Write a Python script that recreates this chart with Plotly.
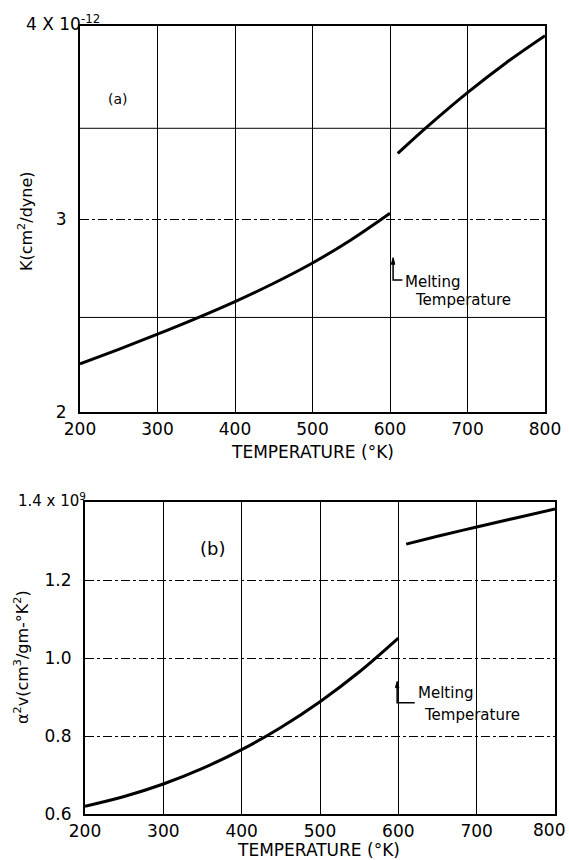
import plotly.graph_objects as go

# ---- data (a) ----
temp_a_solid = [200, 250, 300, 350, 400, 450, 500, 550, 600]
k_a_solid = [2.249, 2.325, 2.403, 2.485, 2.572, 2.667, 2.772, 2.893, 3.03]
temp_a_liquid = [610, 650, 700, 750, 800]
k_a_liquid = [3.34, 3.485, 3.655, 3.81, 3.95]

# ---- data (b) ----
temp_b_solid = [200, 250, 300, 350, 400, 450, 500, 550, 600]
a2v_b_solid = [0.620, 0.645, 0.677, 0.717, 0.765, 0.822, 0.888, 0.964, 1.051]
temp_b_liquid = [610, 650, 700, 750, 800]
a2v_b_liquid = [1.292, 1.312, 1.336, 1.359, 1.382]

x_ticks = [200, 300, 400, 500, 600, 700, 800]
x_tick_text = ["200", "300", "400", "500", "600", "700", "800"]
ya_ticks = [2, 3]
ya_tick_text = ["2", "3"]
ya_extra_grid = [2.49, 3.47]
yb_ticks = [0.6, 0.8, 1.0, 1.2]
yb_tick_text = ["0.6", "0.8", "1.0", "1.2"]
x_title = "TEMPERATURE (°K)"

FONT = "DejaVu Sans"
fig = go.Figure()

line_style = dict(color="black", width=3)
fig.add_trace(go.Scatter(x=temp_a_solid, y=k_a_solid, mode="lines", line=line_style,
                         line_shape="spline", xaxis="x", yaxis="y", showlegend=False))
fig.add_trace(go.Scatter(x=temp_a_liquid, y=k_a_liquid, mode="lines", line=line_style,
                         line_shape="spline", xaxis="x", yaxis="y", showlegend=False))
fig.add_trace(go.Scatter(x=temp_b_solid, y=a2v_b_solid, mode="lines", line=line_style,
                         line_shape="spline", xaxis="x2", yaxis="y2", showlegend=False))
fig.add_trace(go.Scatter(x=temp_b_liquid, y=a2v_b_liquid, mode="lines", line=line_style,
                         line_shape="spline", xaxis="x2", yaxis="y2", showlegend=False))

W, H = 569, 860

def xdom(l, r):
    return [l / W, r / W]

def ydom(top, bot):
    return [1 - bot / H, 1 - top / H]

def px(x):
    return x / W

def py(y):
    return 1 - y / H

common_x = dict(range=[200, 800], showline=True,
                linecolor="black", linewidth=2, mirror=True, showgrid=True,
                gridcolor="black", gridwidth=1, ticks="", zeroline=False, automargin=False,
                ticklabeloverflow="allow",
                tickfont=dict(family=FONT, size=17, color="black"),
                ticklabelstandoff=1)
common_y = dict(showline=True, linecolor="black", linewidth=2, mirror=True, showgrid=True,
                gridcolor="black", gridwidth=1, griddash="dashdot", ticks="", zeroline=False,
                automargin=False, ticklabeloverflow="allow",
                tickfont=dict(family=FONT, size=17, color="black"), ticklabelstandoff=8)

fig.update_layout(
    width=W, height=H,
    margin=dict(l=0, r=0, t=0, b=0, autoexpand=False),
    paper_bgcolor="white", plot_bgcolor="white",
    font=dict(family=FONT, color="black"),
    xaxis=dict(domain=xdom(80, 545), anchor="y", tickvals=x_ticks, ticktext=x_tick_text,
               **common_x),
    yaxis=dict(domain=ydom(26, 412), anchor="x", range=[2, 4], tickvals=ya_ticks,
               ticktext=ya_tick_text, **common_y),
    xaxis2=dict(domain=xdom(85, 555), anchor="y2", tickvals=x_ticks[:-1],
                ticktext=x_tick_text[:-1], **common_x),
    yaxis2=dict(domain=ydom(502, 814), anchor="x2", range=[0.6, 1.4], tickvals=yb_ticks,
                ticktext=yb_tick_text, **common_y),
)

def paper_text(x, y, text, size, xanchor="center", yanchor="middle", angle=0):
    fig.add_annotation(x=px(x), y=py(y), xref="paper", yref="paper", text=text,
                       showarrow=False, xanchor=xanchor, yanchor=yanchor, textangle=angle,
                       font=dict(family=FONT, size=size, color="black"))

# last tick label of (b) kept inside the window (right-aligned at the plot edge)
fig.add_annotation(x=x_ticks[-1], y=0, xref="x2", yref="paper", yanchor="middle",
                   yshift=H - 830, xanchor="right", xshift=12, text=x_tick_text[-1],
                   showarrow=False, font=dict(family=FONT, size=17, color="black"))

# x-axis titles
paper_text(312, 452, x_title, 17)
paper_text(318, 850, x_title, 17)

# extra unlabeled horizontal grid lines in (a)
for gv in ya_extra_grid:
    fig.add_shape(type="line", xref="x domain", yref="y", x0=0, x1=1, y0=gv, y1=gv,
                  line=dict(color="black", width=1), layer="below")

# top tick labels with exponents
paper_text(102, 23, "4 X 10<sup>-12</sup>", 17, xanchor="right")
paper_text(88, 500, "1.4 x 10<sup>9</sup>", 15, xanchor="right")

ann_font = dict(family=FONT, size=15, color="black")
# panel labels
fig.add_annotation(x=249, y=3.62, xref="x", yref="y", text="(a)", showarrow=False,
                   font=dict(family=FONT, size=14, color="black"))
fig.add_annotation(x=363, y=1.28, xref="x2", yref="y2", text="(b)", showarrow=False,
                   font=dict(family=FONT, size=18, color="black"))

# y-axis titles
paper_text(26, 221, "K(cm<sup>2</sup>/dyne)", 16, angle=-90)
paper_text(21, 657, "α<sup>2</sup>v(cm<sup>3</sup>/gm-°K<sup>2</sup>)", 16, angle=-90)

def melt_marker(xr, yr, xv, y_tip, y_corner, x_end, head_h, head_w):
    # vertical stem + horizontal foot
    fig.add_shape(type="path", xref=xr, yref=yr,
                  path=f"M {x_end},{y_corner} L {xv},{y_corner} L {xv},{y_tip - head_h}",
                  line=dict(color="black", width=1.5))
    # arrowhead
    fig.add_shape(type="path", xref=xr, yref=yr,
                  path=(f"M {xv - head_w},{y_tip - head_h} L {xv},{y_tip} "
                        f"L {xv + head_w},{y_tip - head_h} Z"),
                  fillcolor="black", line=dict(color="black", width=1))

# melting temperature markers (a)
melt_marker("x", "y", 604, 2.80, 2.684, 616, 0.035, 2.2)
fig.add_annotation(x=617, y=2.674, xref="x", yref="y", text="Melting", showarrow=False,
                   xanchor="left", yanchor="middle", font=ann_font)
fig.add_annotation(x=630, y=2.58, xref="x", yref="y", text="Temperature", showarrow=False,
                   xanchor="left", yanchor="middle", font=ann_font)

# melting temperature markers (b)
melt_marker("x2", "y2", 598.5, 0.94, 0.885, 621, 0.016, 2.2)
fig.add_annotation(x=623, y=0.910, xref="x2", yref="y2", text="Melting", showarrow=False,
                   xanchor="left", yanchor="middle", font=ann_font)
fig.add_annotation(x=630, y=0.854, xref="x2", yref="y2", text="Temperature",
                   showarrow=False, xanchor="left", yanchor="middle", font=ann_font)

# remove the browser's default 8px body margin so the figure fills the window
fig.write_html("out.html", config={"displayModeBar": False},
               post_script="document.body.style.margin='0';document.body.style.overflow='hidden';")
